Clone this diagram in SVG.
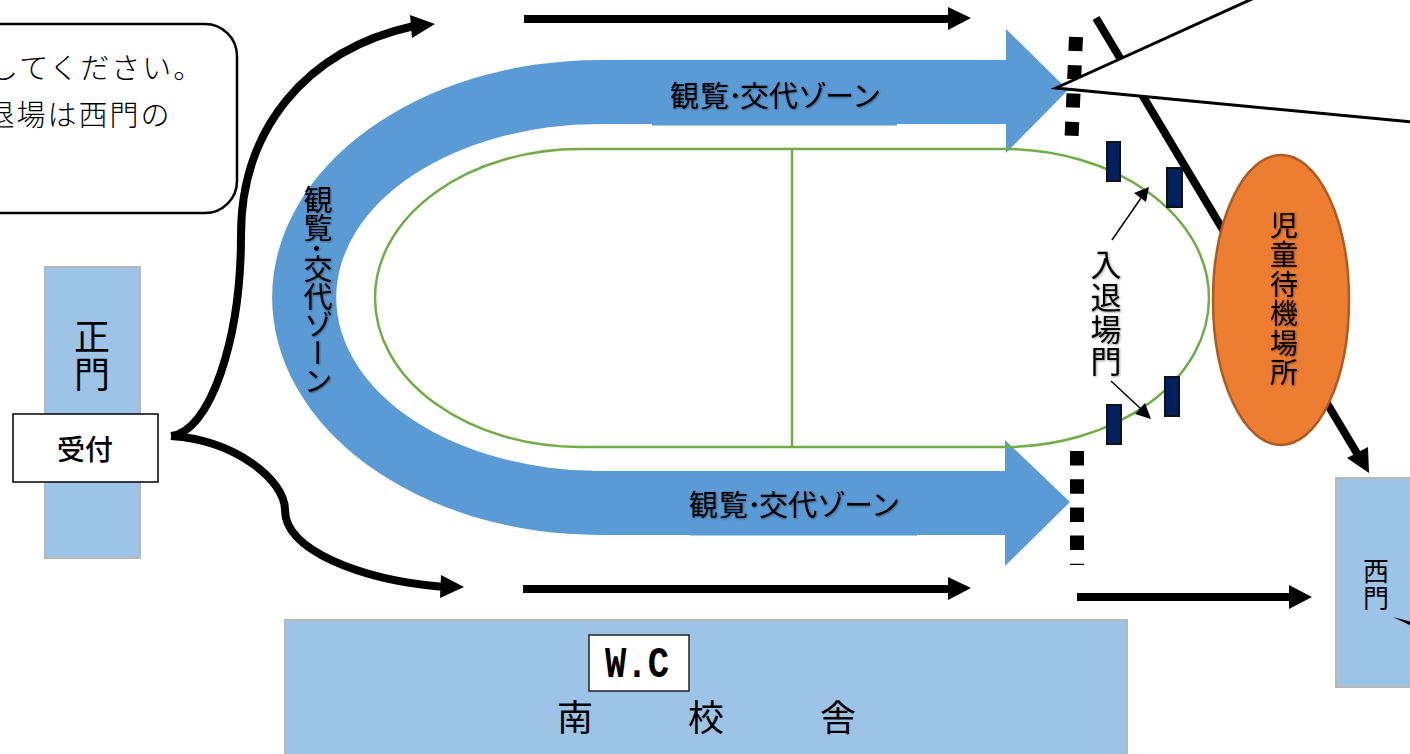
<svg xmlns="http://www.w3.org/2000/svg" width="1410" height="754" viewBox="0 0 1410 754">
<style>
text{font-family:"Noto Sans CJK JP","Noto Sans",sans-serif;fill:#000}
.bld{fill:#9DC3E6;stroke:#B8B8B8;stroke-width:2}
.gate{fill:#002060;stroke:#111;stroke-width:2}
.v{writing-mode:vertical-rl;text-anchor:start}
.c{text-anchor:middle}
.thick{fill:none;stroke:#000;stroke-width:8}
.thin{fill:none;stroke:#000;stroke-width:1.5}
.sh{filter:url(#glow)}
</style>
<defs><filter id="glow" x="-10%" y="-10%" width="120%" height="120%"><feDropShadow dx="0.800" dy="0.800" stdDeviation="0.800" flood-color="#000" flood-opacity="0.450"/></filter></defs>
<rect width="1410" height="754" fill="#fff"/>
<g id="connectors">
<path class="thick" d="M171 436C210 432 241 340 241 235C241 130 305 50 414 26"/>
<polygon points="435,24 410,15 412,38"/>
<path class="thick" d="M171 436C235 440 285 480 285 510C285 550 360 580 444 587"/>
<polygon points="464,587 441,575 440,598"/>
<path class="thick" d="M524 19H950"/><polygon points="971,18 948,7 948,30"/>
<path class="thick" d="M523 589H950"/><polygon points="971,588 948,577 948,600"/>
<path class="thick" d="M1077 597H1291"/><polygon points="1312,597 1289,585 1289,609"/>
<path class="thick" d="M1096 18L1358 455"/><polygon points="1369,473 1347,458 1368,447"/>
</g>
<g id="zone"><path fill="#5B9BD5" d="M1006 60V29L1068 90L1006 153V124H897V125.500H652V124H600A263 173 0 0 0 600 471H1005V440L1070 502L1005 566V535H917V535.500H690V535H600A328 237.500 0 0 1 600 60Z"/></g>
<g id="dash-top"><path d="M1076 37L1071 150" fill="none" stroke="#000" stroke-width="14" stroke-dasharray="14 14.300"/></g>
<g id="dash-bottom"><path d="M1077 451V565" fill="none" stroke="#000" stroke-width="14" stroke-dasharray="14.500 13.700"/></g>
<g id="track"><rect x="375" y="149" width="834" height="298" rx="205" ry="149" fill="none" stroke="#70AD47" stroke-width="2.500"/><path d="M792 149V447" fill="none" stroke="#70AD47" stroke-width="2.500"/></g>
<g id="gates"><rect class="gate" x="1107" y="142" width="13" height="39"/><rect class="gate" x="1167" y="168" width="15" height="39"/><rect class="gate" x="1165" y="377" width="14" height="39"/><rect class="gate" x="1107" y="405" width="14" height="39"/></g>
<g id="gate-label">
<text class="v sh" font-size="31" letter-spacing="1.300" x="1106" y="249">入退場門</text>
<path class="thin" d="M1112 240L1141 198"/><polygon points="1149,187 1134,193 1146,202"/>
<path class="thin" d="M1111 381L1141 409"/><polygon points="1151,419 1135,414 1145,403"/>
</g>
<g id="callout-top"><polygon points="1056,88 1470,-100 1600,-100 1600,140" fill="#fff" stroke="#000" stroke-width="3"/></g>
<g id="waiting"><ellipse cx="1281" cy="300" rx="68" ry="145" fill="#ED7D31" stroke="#AE5A21" stroke-width="2.500"/>
<text class="v sh" font-size="28" letter-spacing="1.500" x="1284" y="211">児童待機場所</text></g>
<g id="note"><rect x="-40" y="24" width="277" height="189" rx="32" fill="#fff" stroke="#000" stroke-width="2.500"/>
<text font-size="29" font-weight="300" letter-spacing="2" x="-11" y="78.500">してください。</text>
<text font-size="29" font-weight="300" letter-spacing="2" x="-14.500" y="126">退場は西門の</text></g>
<g id="main-gate"><rect class="bld" x="45" y="267" width="95" height="291"/><text class="v" font-size="36" letter-spacing="2" x="92" y="318">正門</text></g>
<g id="reception"><rect x="13" y="414" width="145" height="68" fill="#fff" stroke="#000" stroke-width="1.500"/><text class="c" font-size="28" font-weight="500" x="85" y="460">受付</text></g>
<g id="west-gate"><rect class="bld" x="1336" y="478" width="90" height="209"/><text class="v" font-size="26" letter-spacing="1" x="1376" y="558.500">西門</text><polygon points="1393,617 1420,624 1420,630"/></g>
<g id="south"><rect class="bld" x="285" y="620" width="842" height="150"/><text class="c" font-size="36" x="575" y="731">南</text><text class="c" font-size="36" x="706" y="731">校</text><text class="c" font-size="36" x="838" y="731">舎</text></g>
<g id="wc"><rect x="589" y="635" width="100" height="56" fill="#fff" stroke="#222" stroke-width="1.500"/><text font-size="45" font-weight="700" x="605" y="677" textLength="64" lengthAdjust="spacingAndGlyphs" style="font-family:'Liberation Mono',monospace">W.C</text></g>
<g id="zone-labels" class="sh">
<text font-size="29" x="670 700 728 740 769 798 825 852" y="107">観覧･交代ゾーン</text>
<text font-size="29" x="689 719 747 759 788 817 844 871" y="516">観覧･交代ゾーン</text>
<text class="v" font-size="29" letter-spacing="-1" x="318" y="185">観覧･交代ゾーン</text>
</g>
</svg>
